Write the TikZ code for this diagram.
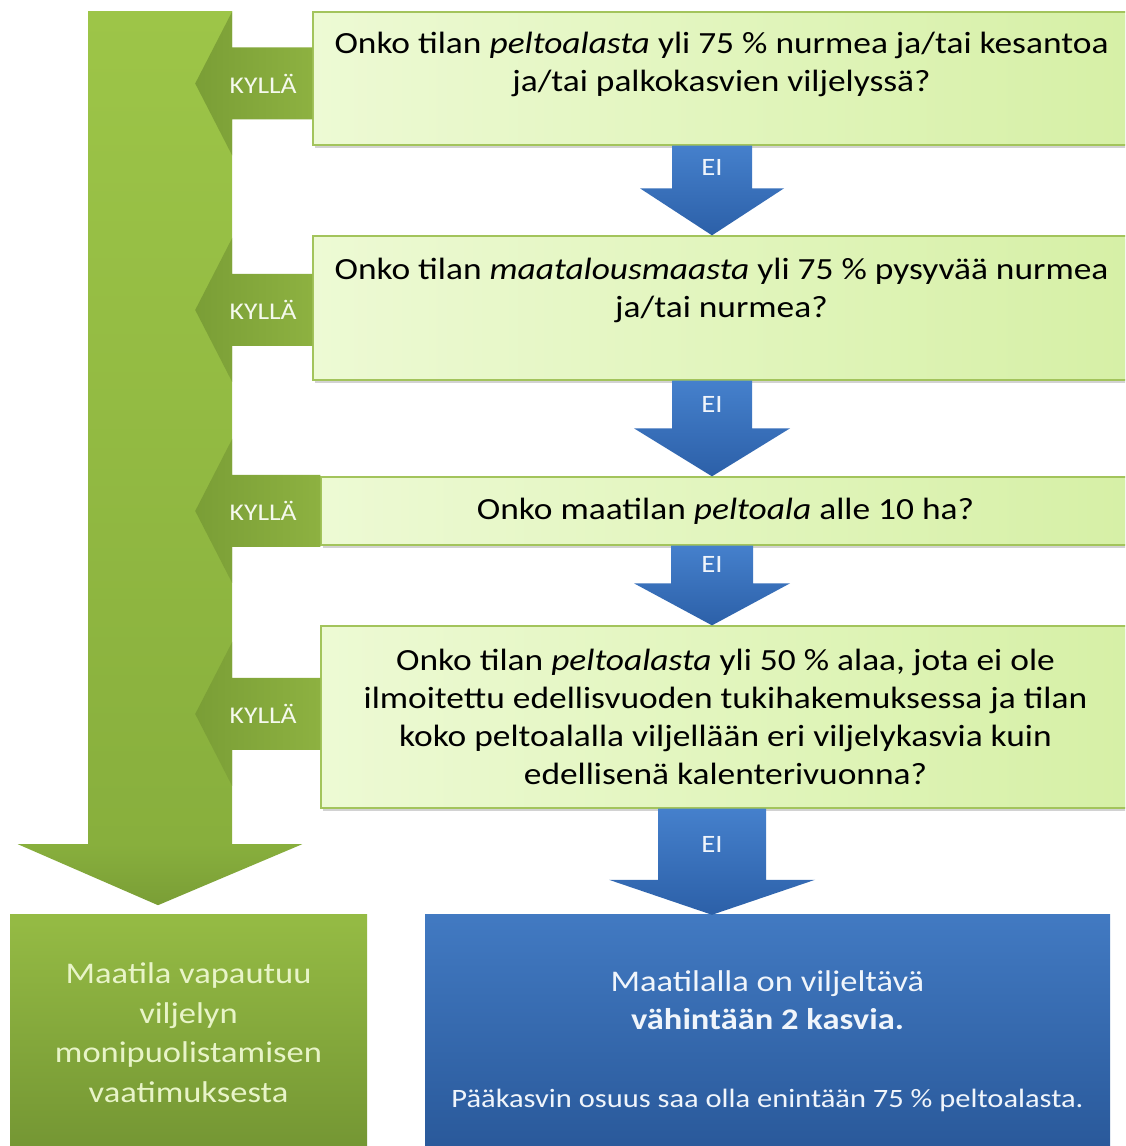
\documentclass[tikz,border=0pt]{standalone}
\usepackage{fontspec}
\setmainfont{Carlito}[FakeStretch=1.15]
\usetikzlibrary{calc,shadows}

\definecolor{yesgreen}{HTML}{9DC548}
\definecolor{yesdark}{HTML}{88AF3D}
\definecolor{yesdeep}{HTML}{7A9E36}
\definecolor{qlight}{HTML}{EDFAD4}
\definecolor{qlime}{HTML}{D6F0A6}
\definecolor{qline}{HTML}{A3C45C}
\definecolor{eiblue}{HTML}{4580CC}
\definecolor{eidark}{HTML}{2C60A8}
\definecolor{paletext}{HTML}{E8F4C8}

% extra depth under the last line, lifts the text in its box
\newcommand\liftby[1]{\rule[-#1]{0pt}{#1}}

\begin{document}
\begin{tikzpicture}[x=1pt,y=1pt,
   question/.style={draw=qline,line width=1.3pt,left color=qlight,right color=qlime,
      drop shadow={shadow xshift=2pt,shadow yshift=-3pt,opacity=.35},
      align=center,inner sep=0pt,font=\fontsize{30.8}{38}\selectfont},
   yesbar/.style={inner sep=0pt,top color=yesgreen,bottom color=yesdark},
   kylla/.style={left color=yesdeep,right color=yesgreen!90!black},
   kyllalabel/.style={text=white!90!yesgreen,font=\fontsize{24}{26}\selectfont},
   eiarrow/.style={top color=eiblue,bottom color=eidark},
   eilabel/.style={text=white!92!eiblue,font=\fontsize{25}{28}\selectfont},
   result/.style={inner sep=0pt,align=center},
   ]
\path[use as bounding box,fill=white] (0,0) rectangle (1125,1146);
\clip (0,0) rectangle (1125,1146);

\coordinate (axis) at (712,0);

% the big KYLLA arrow
\node[yesbar,minimum width=144pt,minimum height=833pt] (yesbar) at (160,717.5) {};
\shade[top color=yesdark,bottom color=yesdeep]
   ($(yesbar.south west)+(0,1)$) -- ++(-70,0) -- ($(yesbar.south)+(-2,-60)$)
   -- ($(yesbar.south east)+(70,1)$) -- ($(yesbar.south east)+(0,1)$) -- cycle;

% questions
\node[question,minimum width=817pt,minimum height=133pt] (q1) at (721.5,1067.5)
   {Onko tilan \textit{peltoalasta} yli 75 \% nurmea ja/tai kesantoa\\
    ja/tai palkokasvien viljelyssä?\liftby{33pt}};
\node[question,minimum width=817pt,minimum height=144pt] (q2) at (721.5,838)
   {Onko tilan \textit{maatalousmaasta} yli 75 \% pysyvää nurmea\\
    ja/tai nurmea?\liftby{40pt}};
\node[question,minimum width=809pt,minimum height=68pt] (q3) at (725.5,635)
   {Onko maatilan \textit{peltoala} alle 10 ha?};
\node[question,minimum width=809pt,minimum height=182pt] (q4) at (725.5,429)
   {Onko tilan \textit{peltoalasta} yli 50 \% alaa, jota ei ole\\
    ilmoitettu edellisvuoden tukihakemuksessa ja tilan\\
    koko peltoalalla viljellään eri viljelykasvia kuin\\
    edellisenä kalenterivuonna?};

% results
\node[result,top color=yesgreen!95!black,bottom color=yesdeep!95!black,
   text=paletext,font=\fontsize{30}{39.5}\selectfont,
   minimum width=357pt,minimum height=235pt] (yesres) at (188.5,113.5)
   {Maatila vapautuu\\viljelyn\\monipuolistamisen\\vaatimuksesta};
\node[result,top color=eiblue!95!black,bottom color=eidark!90!black,
   text=white!92!eiblue,font=\fontsize{30}{38}\selectfont,
   minimum width=685pt,minimum height=252pt] (nores) at (767.5,105)
   {Maatilalla on viljeltävä\\
    \textbf{vähintään 2 kasvia.}\\[40pt]
    {\fontsize{26.5}{30}\selectfont Pääkasvin osuus saa olla enintään 75 \% peltoalasta.}};

% KYLLA arrows into the big arrow
\foreach \q/\dy in {q1/-5,q2/-2,q3/0,q4/3}
   \path[kylla] let \p1=($(\q.west)+(0,\dy)$), \p2=(yesbar.east) in
      (\x1,\y1+36) -- (\x2,\y1+36) -- (\x2,\y1+72) -- (\x2-37,\y1)
      -- (\x2,\y1-72) -- (\x2,\y1-36) -- (\x1,\y1-36) -- cycle
      node[kyllalabel] at (\x2+31,\y1) {KYLLÄ};

% EI arrows down
\foreach \a/\b/\s/\h/\l in {q1/q2/40/72/47,q2/q3/40/78/48,q3/q4/41/78/42,q4/nores/54/103/35}
   \path[eiarrow] let \p1=(axis |- \a.south), \p2=(axis |- \b.north) in
      (\x1-\s,\y1) -- (\x1+\s,\y1) -- (\x1+\s,\y2+\l) -- (\x1+\h,\y2+\l)
      -- (\x2,\y2) -- (\x1-\h,\y2+\l) -- (\x1-\s,\y2+\l) -- cycle
      node[eilabel] at (\x1,{(\y1+\y2+\l)/2}) {EI};
\end{tikzpicture}
\end{document}
